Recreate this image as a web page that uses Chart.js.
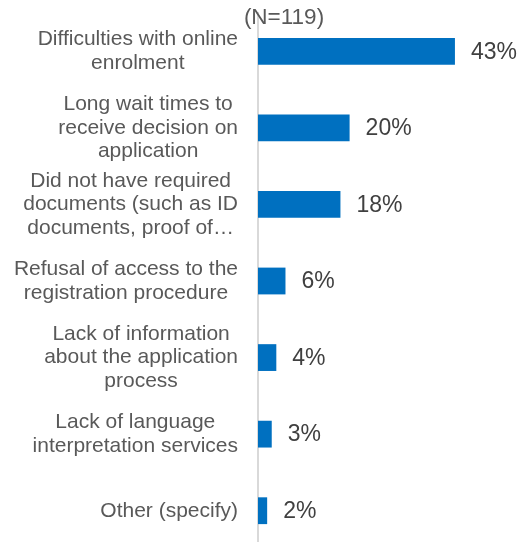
<!DOCTYPE html>
<html>
<head>
<meta charset="utf-8">
<style>
    html, body { margin: 0; padding: 0; background: #fff; }
    #wrap { width: 527px; height: 542px; overflow: hidden; position: relative; }
    canvas { display: block; }
</style>
<script src="https://cdn.jsdelivr.net/npm/chart.js@4/dist/chart.umd.min.js"></script>
</head>
<body>
<div id="wrap">
    <canvas id="myChart" width="527" height="560"></canvas>
</div>
<script>
// Reasons, one array of wrapped lines per bar
const categories = [
    ['Difficulties with online', 'enrolment'],
    ['Long wait times to', 'receive decision on', 'application'],
    ['Did not have required', 'documents (such as ID', 'documents, proof of…'],
    ['Refusal of access to the', 'registration procedure'],
    ['Lack of information', 'about the application', 'process'],
    ['Lack of language', 'interpretation services'],
    ['Other (specify)']
];
const shares = [43, 20, 18, 6, 4, 3, 2];
const sampleLabel = '(N=119)';

const FONT = '"Liberation Sans", Arial, sans-serif';

// category labels: block right aligned against the axis, lines centred inside it
const rowLabels = {
    id: 'rowLabels',
    afterDraw(chart) {
        const ctx = chart.ctx;
        const y = chart.scales.y;
        ctx.save();
        ctx.font = '21px ' + FONT;
        ctx.fillStyle = '#595959';
        ctx.textBaseline = 'middle';
        ctx.textAlign = 'center';
        categories.forEach((lines, i) => {
            const cy = y.getPixelForValue(i);
            const w = Math.max(...lines.map(l => ctx.measureText(l).width));
            const cx = y.right - 20 - w / 2;
            lines.forEach((line, j) => {
                ctx.fillText(line, cx, cy + (j - (lines.length - 1) / 2) * 23.5);
            });
        });

        // value labels at the end of each bar
        const meta = chart.getDatasetMeta(0);
        ctx.font = '23px ' + FONT;
        ctx.fillStyle = '#404040';
        ctx.textAlign = 'left';
        meta.data.forEach((bar, i) => {
            ctx.fillText(shares[i] + '%', bar.x + 16, bar.y + 1);
        });

        // sample size under the heading
        ctx.font = '22.5px ' + FONT;
        ctx.fillStyle = '#595959';
        ctx.textAlign = 'center';
        ctx.textBaseline = 'alphabetic';
        ctx.fillText(sampleLabel, 284, 24);
        ctx.restore();
    }
};

const chartData = {
    labels: categories,
    datasets: [{
        data: shares,
        backgroundColor: '#0070C0',
        borderWidth: 0,
        categoryPercentage: 1,
        barPercentage: 0.35
    }]
};

const config = {
    type: 'bar',
    data: chartData,
    options: {
        indexAxis: 'y',
        responsive: false,
        animation: false,
        layout: {
            padding: { top: 13, bottom: 11, right: 40, left: 0 }
        },
        plugins: {
            legend: { display: false },
            tooltip: { enabled: false }
        },
        scales: {
            x: {
                display: false,
                min: 0,
                max: 50
            },
            y: {
                grid: { display: false },
                border: { color: '#d9d9d9', width: 2 },
                ticks: { display: false },
                afterFit(scale) {
                    scale.width = 258;
                }
            }
        }
    },
    plugins: [rowLabels]
};

const ctx = document.getElementById('myChart').getContext('2d');

if (ctx) {
    new Chart(ctx, config);
}
</script>
</body>
</html>
